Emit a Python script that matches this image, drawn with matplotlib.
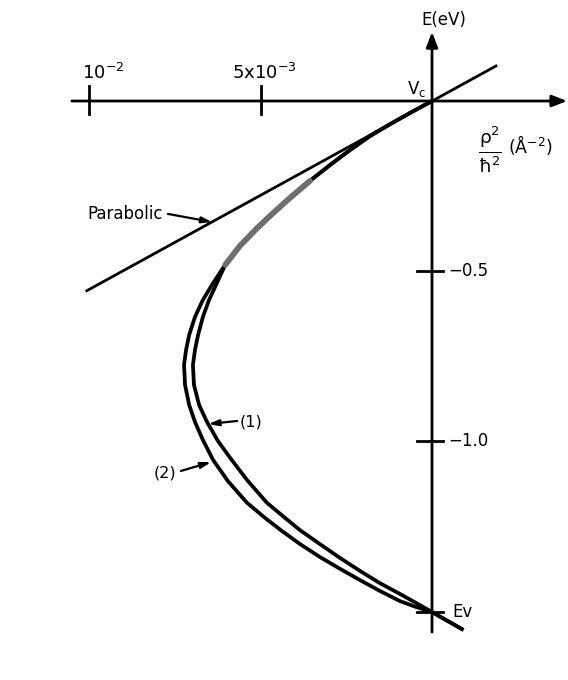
import numpy as np
import matplotlib
matplotlib.use("Agg")
import matplotlib.pyplot as plt

plt.rcParams['font.family'] = ['DejaVu Sans']
plt.rcParams['mathtext.fontset'] = 'dejavusans'
plt.rcParams['mathtext.default'] = 'regular'

# --- data: E (eV) versus k^2 (A^-2), k^2 increasing to the left ---
parabolic_k2 = [0.0101, -0.0019]
parabolic_E = [-0.560, 0.105]

curve1_k2 = [0.0, 0.00064, 0.00122, 0.00181, 0.00239, 0.00297, 0.00356, 0.00414,
             0.00466, 0.00510, 0.00560, 0.00603,
             0.00627, 0.00650, 0.00668, 0.00682, 0.00691, 0.00697, 0.00694, 0.00679,
             0.00656, 0.00624, 0.00586, 0.00539, 0.00481, 0.00431, 0.00385, 0.00327,
             0.00268, 0.00210, 0.00152, 0.00093, 0.00047, 0.0, -0.00087]
curve1_E = [0.0, -0.035, -0.068, -0.103, -0.144, -0.188, -0.235, -0.285,
            -0.332, -0.374, -0.426, -0.482,
            -0.535, -0.585, -0.635, -0.688, -0.732, -0.776, -0.835, -0.894,
            -0.944, -1.000, -1.053, -1.115, -1.182, -1.224, -1.262, -1.303,
            -1.344, -1.382, -1.418, -1.450, -1.476, -1.503, -1.553]

curve2_k2 = [0.0, 0.00064, 0.00122, 0.00181, 0.00239, 0.00297, 0.00356, 0.00414,
             0.00466, 0.00510, 0.00560, 0.00603,
             0.00638, 0.00668, 0.00691, 0.00708, 0.00717, 0.00723, 0.00720, 0.00708,
             0.00691, 0.00668, 0.00638, 0.00595, 0.00539, 0.00487, 0.00437, 0.00385,
             0.00327, 0.00268, 0.00210, 0.00152, 0.00093, 0.00047, 0.0, -0.00087]
curve2_E = [0.0, -0.035, -0.068, -0.103, -0.144, -0.188, -0.235, -0.285,
            -0.332, -0.374, -0.426, -0.482,
            -0.535, -0.585, -0.635, -0.688, -0.732, -0.776, -0.835, -0.894,
            -0.944, -0.997, -1.056, -1.118, -1.182, -1.226, -1.265, -1.303,
            -1.341, -1.376, -1.409, -1.441, -1.471, -1.488, -1.503, -1.553]

x_ticks = [1e-2, 5e-3]
x_tick_labels = ['$10^{-2}$', '5x$10^{-3}$']
x_label_left = [0.0102, 0.00583]
y_ticks = [-0.5, -1.0]
y_tick_labels = ['\u22120.5', '\u22121.0']
E_v = -1.503

fig = plt.figure(figsize=(5.68, 6.80), dpi=100)
ax = fig.add_axes([0, 0, 1, 1])
ax.set_xlim(0.012595, -0.003965)
ax.set_ylim(-1.7029, 0.2971)
ax.axis('off')

arrow_kw = dict(arrowstyle='-|>,head_length=0.9,head_width=0.35', lw=2.0,
                color='black', shrinkA=0, shrinkB=0)

# axes with arrowheads
ax.annotate('', xy=(-0.00394, 0.0), xytext=(0.0105, 0.0), arrowprops=arrow_kw)
ax.annotate('', xy=(0.0, 0.203), xytext=(0.0, -1.562), arrowprops=arrow_kw)

# ticks on the k^2 axis
for xt, lab, xl in zip(x_ticks, x_tick_labels, x_label_left):
    ax.plot([xt, xt], [0.044, -0.037], color='black', lw=2.0)
    ax.text(xl, 0.052, lab, fontsize=13, ha='left', va='bottom')

# ticks on the energy axis
for yt, lab in zip(y_ticks, y_tick_labels):
    ax.plot([0.00044, -0.00032], [yt, yt], color='black', lw=2.0)
    ax.text(-0.00046, yt, lab, fontsize=12, ha='left', va='center')
ax.plot([0.00044, -0.00032], [E_v, E_v], color='black', lw=2.0)
ax.text(-0.00058, E_v, 'Ev', fontsize=12, ha='left', va='center')

# parabolic dispersion
ax.plot(parabolic_k2, parabolic_E, color='black', lw=2.0, solid_capstyle='butt')

# complex band curves
ax.plot(curve1_k2, curve1_E, color='black', lw=2.7, solid_joinstyle='round')
ax.plot(curve2_k2, curve2_E, color='black', lw=2.7, solid_joinstyle='round')

# lighter overlap where the two curves merge
k2a = np.array(curve1_k2[:12])
Ea = np.array(curve1_E[:12])
m = k2a >= 0.00330
ax.plot(k2a[m], Ea[m], color='#6e6e6e', lw=4.2, solid_capstyle='round')

# axis titles
ax.text(-0.00035, 0.238, 'E(eV)', fontsize=12, ha='center', va='center')
ax.text(0.00044, 0.006, 'V$_c$', fontsize=12, ha='center', va='bottom')
ax.text(-0.00168, -0.144, r'$\frac{\rho^2}{\hbar^2}$', fontsize=19,
        ha='center', va='center')
ax.text(-0.00222, -0.128, '(Å$^{-2}$)', fontsize=12.5, ha='left', va='center')

# curve labels
small_arrow = dict(arrowstyle='-|>,head_length=0.6,head_width=0.18', lw=1.6,
                   color='black', shrinkA=0, shrinkB=0)
ax.text(0.01006, -0.332, 'Parabolic', fontsize=12, ha='left', va='center')
ax.annotate('', xy=(0.00641, -0.356), xytext=(0.0077, -0.332),
            arrowprops=small_arrow)
ax.text(0.0056, -0.944, '(1)', fontsize=11.5, ha='left', va='center')
ax.annotate('', xy=(0.00652, -0.950), xytext=(0.00568, -0.941),
            arrowprops=small_arrow)
ax.text(0.00745, -1.094, '(2)', fontsize=11.5, ha='right', va='center')
ax.annotate('', xy=(0.00644, -1.062), xytext=(0.00732, -1.088),
            arrowprops=small_arrow)

fig.savefig('out.png', dpi=100, facecolor='white')
